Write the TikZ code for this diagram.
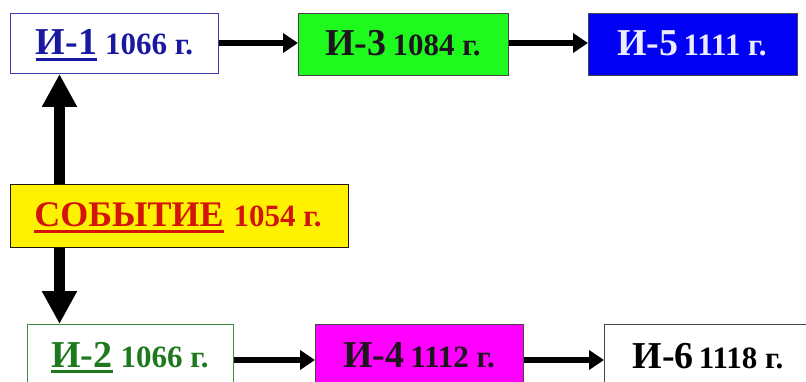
\documentclass[tikz,border=0pt]{standalone}
\usepackage{fontspec}
\setmainfont{Liberation Serif}
\usetikzlibrary{arrows.meta}
\definecolor{navyT}{RGB}{25,25,160}
\definecolor{navyB}{RGB}{60,60,170}
\definecolor{greenT}{RGB}{30,120,30}
\definecolor{greenB}{RGB}{60,140,60}
\definecolor{redT}{RGB}{210,20,10}
\definecolor{brightgreen}{RGB}{30,250,30}
\definecolor{brightmagenta}{RGB}{255,0,255}
\definecolor{brightblue}{RGB}{0,0,245}
\definecolor{darkT}{RGB}{30,20,30}
\definecolor{whiteT}{RGB}{235,235,255}
\newcommand\myul[1]{\setbox0\hbox{#1}\rlap{\raisebox{-6pt}{\rule{\wd0}{3pt}}}\box0}
\newcommand\bigf{\fontsize{38}{40}\selectfont\bfseries}
\newcommand\evf{\fontsize{36}{38}\selectfont\bfseries}
\newcommand\smallf{\fontsize{31}{33}\selectfont\bfseries}
\begin{document}
\begin{tikzpicture}[x=1pt,y=-1pt,
  box/.style={draw=#1, line width=1pt, inner sep=0pt, anchor=north west},
  lbl/.style={anchor=base, inner sep=0pt},
  harrow/.style={line width=6pt, -{Triangle[length=15pt,width=19pt]}},
  varrow/.style={line width=11pt, -{Triangle[length=33pt,width=33pt]}}]
\useasboundingbox (0,0) rectangle (806,382);
\clip (0,0) rectangle (806,382);
% top row
\node[box=navyB, fill=white, minimum width=208pt, minimum height=60pt] (i1) at (10,13) {};
\node[lbl, text=navyT] (i1t) at (114.5,55) {\bigf\myul{И-1}\hspace{8pt}\smallf 1066 г.};
\node[box=darkT!80, fill=brightgreen, minimum width=210pt, minimum height=62pt] (i3) at (298,13) {};
\node[lbl, text=darkT] (i3t) at (403,56) {\bigf И-3\hspace{6pt}\smallf 1084 г.};
\node[box=darkT!80, fill=brightblue, minimum width=209pt, minimum height=62pt] (i5) at (588,13) {};
\node[lbl, text=whiteT] (i5t) at (692,56) {\bigf И-5\hspace{5pt}\smallf 1111 г.};
% event
\node[box=darkT, fill=yellow, minimum width=338pt, minimum height=63pt] (ev) at (10,184) {};
\node[lbl, text=redT] (evt) at (178,227) {\evf\myul{СОБЫТИЕ}\hspace{10pt}\smallf 1054 г.};
% bottom row
\node[box=greenB, fill=white, minimum width=206pt, minimum height=70pt] (i2) at (27,324) {};
\node[lbl, text=greenT] (i2t) at (130,367) {\bigf\myul{И-2}\hspace{8pt}\smallf 1066 г.};
\node[box=darkT!80, fill=brightmagenta, minimum width=208pt, minimum height=70pt] (i4) at (315,324) {};
\node[lbl, text=darkT] (i4t) at (419,367) {\bigf И-4\hspace{6pt}\smallf 1112 г.};
\node[box=darkT!80, fill=white, minimum width=220pt, minimum height=70pt] (i6) at (604,324) {};
\node[lbl, text=black] (i6t) at (708,368) {\bigf И-6\hspace{5pt}\smallf 1118 г.};
% arrows
\coordinate (vx) at (59.5,0);
\coordinate (ty) at (0,43);
\coordinate (by) at (0,360);
\draw[varrow] (ev.north -| vx) -- (i1.south -| vx);
\draw[varrow] (ev.south -| vx) -- (i2.north -| vx);
\draw[harrow] (i1.east |- ty) -- (i3.west |- ty);
\draw[harrow] (i3.east |- ty) -- (i5.west |- ty);
\draw[harrow] (i2.east |- by) -- (i4.west |- by);
\draw[harrow] (i4.east |- by) -- (i6.west |- by);
\end{tikzpicture}
\end{document}
